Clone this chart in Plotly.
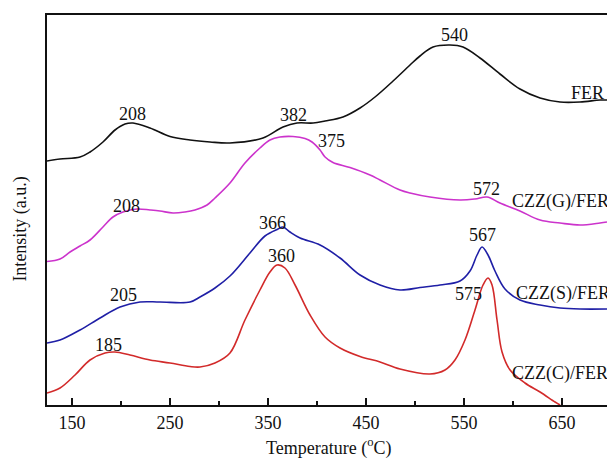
import plotly.graph_objects as go

# Temperature (°C) and TPD signal (a.u.) for each sample, offset vertically
fer_t = [124.5, 137.8, 158.2, 168.4, 181.6, 193.9, 204.1, 212.2, 229.6, 250, 270.4, 290.8,
         311.2, 344.9, 365.3, 379.6, 396, 408.2, 426.5, 443.9, 459.2, 477.6, 494.9, 505.1,
         518.4, 535.7, 549, 566.3, 586.7, 607.1, 627.6, 648, 668.4, 688.8, 695.9]
fer_i = [244, 246, 248, 253, 263, 275, 281, 282, 277, 268.5, 265, 263,
         262, 267, 278, 282, 282, 284, 288, 297, 308, 324, 340, 349,
         358, 360, 358, 347, 331, 316, 307, 303, 303, 305, 305]

czzg_t = [124.5, 137.8, 148, 158.2, 168.4, 181.6, 191.8, 202, 216.3, 229.6, 239.8, 253.1,
          265.3, 275.5, 287.8, 295.9, 311.2, 326.5, 341.8, 352, 362.2, 375.5, 387.8, 394.9,
          403.1, 408.2, 416.3, 433.7, 454.1, 464.3, 484.7, 494.9, 515.3, 545.9, 561.2, 573.5,
          586.7, 607.1, 627.6, 648, 668.4, 688.8, 695.9]
czzg_i = [143.5, 146, 153, 159, 165, 178, 188, 193, 196, 195, 194, 192,
          193, 195, 200, 207, 222, 242, 257, 265, 268, 268.5, 266.5, 263,
          255, 248, 242.5, 237.5, 230, 225, 215, 212, 208, 205, 206, 208,
          202, 194, 185, 182, 180, 182, 183]

czzs_t = [124.5, 137.8, 158.2, 178.6, 199, 219.4, 239.8, 270.4, 280.6, 295.9, 311.2, 331.6,
          346.9, 360.2, 365.3, 372.4, 382.7, 403.1, 423.5, 443.9, 464.3, 484.7, 505.1, 525.5,
          545.9, 556.1, 563.3, 568.4, 574.5, 581.6, 591.8, 607.1, 627.6, 648, 668.4, 695.9]
czzs_i = [62, 65, 75, 87, 98, 103, 103, 103, 108, 117, 129, 152,
          169, 176, 178, 173, 167, 160, 147, 130, 120, 115, 117.5, 120,
          124, 134, 150, 158, 150, 134, 116, 105, 100, 97, 96, 96]

czzc_t = [124.5, 137.8, 153.1, 168.4, 183.7, 193.9, 209.2, 229.6, 250, 270.4, 280.6, 295.9,
          311.2, 326.5, 341.8, 352, 359.2, 367.3, 377.6, 392.9, 408.2, 423.5, 443.9, 464.3,
          484.7, 515.3, 530.6, 540.8, 551, 561.2, 569.4, 574.5, 578.6, 583.7, 588.8, 597,
          612.2, 627.6, 642.9, 648]
czzc_i = [12, 17, 30, 45, 52, 53, 50, 45, 42, 38.5, 38, 42,
          52, 85, 115, 133, 140, 137, 120, 90, 68, 57, 48.5, 43,
          36, 31, 35, 45, 65, 95, 120, 127, 120, 85, 53, 35,
          22, 13, 3, 0]

series_names = ["FER", "CZZ(G)/FER", "CZZ(S)/FER", "CZZ(C)/FER"]
series_colors = ["#111111", "#cc33cc", "#1f1fa6", "#d22a2a"]

# Peak temperature labels: (text, temperature, intensity)
peak_labels = [
    ("208", 212, 291.5), ("382", 376.5, 290.5), ("540", 539.8, 370.5),
    ("208", 205.8, 199.5), ("375", 414.8, 264.5), ("572", 572.9, 216),
    ("205", 203, 110), ("366", 354.6, 182.5), ("567", 568.9, 170),
    ("185", 187.2, 60), ("360", 363.3, 149.5), ("575", 554.6, 111.5),
]
# Sample name labels: (text, temperature at left edge, intensity)
name_labels = [
    ("FER", 657, 312.5), ("CZZ(G)/FER", 597, 203.5),
    ("CZZ(S)/FER", 601, 111.5), ("CZZ(C)/FER", 597, 31.5),
]

font_family = "Liberation Serif"
text_font = dict(family=font_family, size=18, color="#111")

fig = go.Figure()
for name, color, tx, iy in zip(series_names, series_colors,
                               [fer_t, czzg_t, czzs_t, czzc_t],
                               [fer_i, czzg_i, czzs_i, czzc_i]):
    fig.add_trace(go.Scatter(x=tx, y=iy, mode="lines", name=name,
                             line=dict(color=color, width=1.6, shape="spline", smoothing=1.0)))

annotations = []
for text, t, i in peak_labels:
    annotations.append(dict(x=t, y=i, xref="x", yref="y", text=text, showarrow=False,
                            xanchor="center", yanchor="middle", font=text_font))
for text, t, i in name_labels:
    annotations.append(dict(x=t, y=i, xref="x", yref="y", text=text, showarrow=False,
                            xanchor="left", yanchor="middle", font=text_font))
annotations.append(dict(x=-0.048, y=0.45, xref="paper", yref="paper", text="Intensity (a.u.)",
                        textangle=-90, showarrow=False, xanchor="center", yanchor="middle",
                        font=text_font))
annotations.append(dict(x=0.502, y=-0.108, xref="paper", yref="paper",
                        text="Temperature (<sup>o</sup>C)", showarrow=False,
                        xanchor="center", yanchor="middle", font=text_font))

fig.update_layout(
    width=607, height=459,
    margin=dict(l=47, r=0, t=15, b=54),
    paper_bgcolor="white", plot_bgcolor="white",
    showlegend=False,
    annotations=annotations,
    font=text_font,
)
fig.update_xaxes(
    range=[124.5, 695.9], showgrid=False, zeroline=False,
    showline=True, linecolor="#111", linewidth=2, mirror=True,
    ticks="inside", ticklen=7, tickwidth=1.5, tickcolor="#111",
    tick0=150, dtick=100,
    minor=dict(ticks="inside", ticklen=4, tickwidth=1.5, tickcolor="#111", dtick=50, tick0=150),
    tickfont=text_font,
)
fig.update_yaxes(
    range=[0, 390], showgrid=False, zeroline=False,
    showline=True, linecolor="#111", linewidth=2,
    showticklabels=False, ticks="",
)

fig.write_html("out.html")
